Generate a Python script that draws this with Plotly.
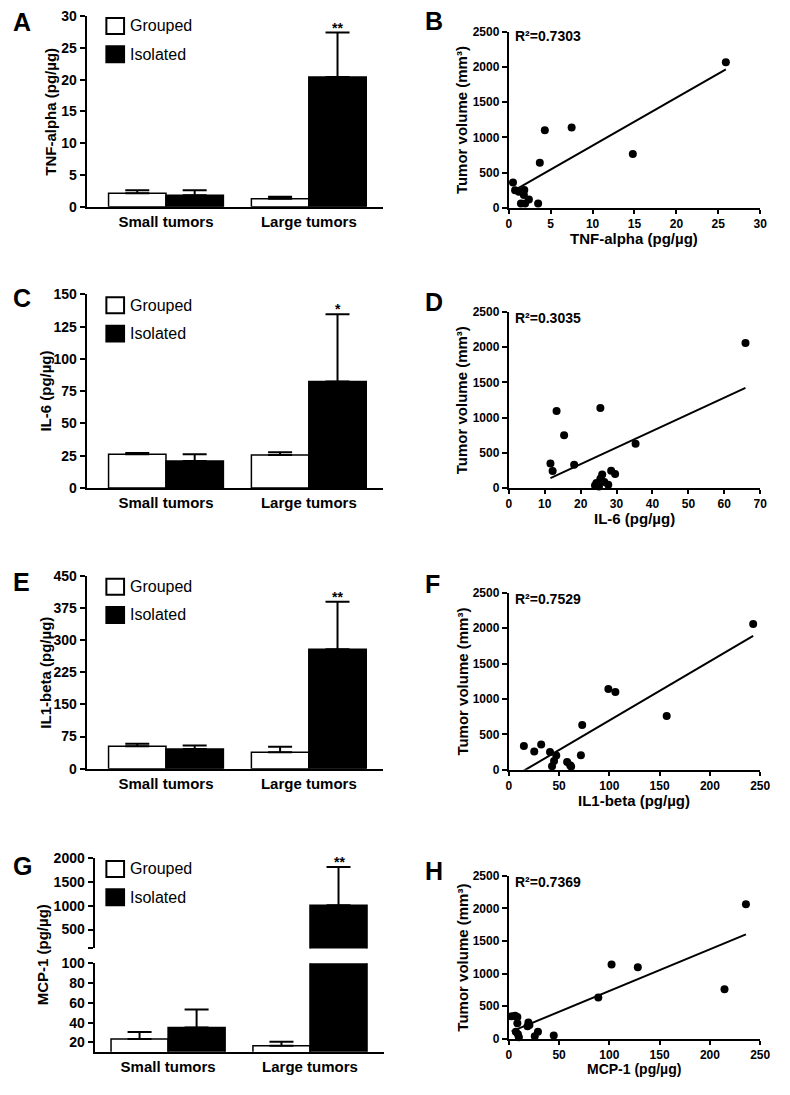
import plotly.graph_objects as go

# The page keeps the browser's 8 px body margin and a little extra height, so the
# figure is sized to fit the window and reference pixels are mapped accordingly.
VW, VH = 790, 1095
OFF = 8
W, H = VW - 2 * OFF, VH - 2 * OFF
S = 0.9922  # measured vertical scale of the captured page
FONT = "Liberation Sans, Arial, sans-serif"

# ---------------- data ----------------
categories = ["Small tumors", "Large tumors"]
series_names = ["Grouped", "Isolated"]

tnf_grouped = [2.1, 1.25]
tnf_grouped_err = [0.5, 0.3]
tnf_isolated = [1.8, 20.4]
tnf_isolated_err = [0.8, 7.0]

il6_grouped = [26.2, 25.6]
il6_grouped_err = [0.9, 2.1]
il6_isolated = [21.0, 82.6]
il6_isolated_err = [5.1, 52.0]

il1b_grouped = [52.5, 38.6]
il1b_grouped_err = [5.5, 12.5]
il1b_isolated = [46.0, 278.5]
il1b_isolated_err = [8.0, 111.0]

mcp1_grouped = [23.4, 16.7]
mcp1_grouped_err = [7.3, 4.0]
mcp1_isolated = [35.0, 1010.0]
mcp1_isolated_err = [18.4, 800.0]

significance = ["**", "*", "**", "**"]

tnf_x = [25.9, 14.8, 7.5, 4.3, 3.7, 0.5, 0.75, 1.2, 1.85, 1.8, 2.4, 1.45, 1.95, 3.5]
tnf_vol = [2070, 765, 1140, 1100, 638, 358, 248, 226, 252, 182, 117, 58, 58, 58]

il6_x = [65.9, 35.3, 25.5, 13.3, 15.4, 18.2, 11.6, 12.2, 28.5, 29.6, 26.0, 25.5, 24.4, 24.0, 26.6, 27.7, 25.1]
il6_vol = [2060, 630, 1135, 1095, 750, 329, 348, 240, 246, 197, 190, 131, 70, 37, 85, 45, 20]

il1b_x = [243, 157, 99, 106, 73, 15, 25.3, 32.2, 41, 47.2, 45, 43, 58, 61, 62, 71.7]
il1b_vol = [2060, 760, 1140, 1098, 632, 335, 256, 358, 250, 200, 122, 50, 110, 62, 45, 206]

mcp1_x = [235.8, 214.5, 102.2, 128.3, 89, 2.8, 6.3, 8.5, 8.5, 19.5, 18.6, 20.5, 7, 9.1, 10, 29, 25.8, 44.7]
mcp1_vol = [2066, 759, 1142, 1099, 632, 344, 354, 335, 240, 250, 194, 210, 109, 71, 24, 109, 38, 52]

fit_slope = [68.2, 23.6, 8.36, 6.39]
fit_intercept = [201.5, -133.0, -139.6, 95.0]
r2_labels = ["R²=0.7303", "R²=0.3035", "R²=0.7529", "R²=0.7369"]

bar_ylabels = ["TNF-alpha (pg/µg)", "IL-6 (pg/µg)", "IL1-beta (pg/µg)", "MCP-1 (pg/µg)"]
scatter_xlabels = bar_ylabels
scatter_ylabel = "Tumor volume (mm³)"
panel_letters = ["A", "B", "C", "D", "E", "F", "G", "H"]

# ---------------- helpers (picture pixels -> paper) ----------------
def clamp(v):
    return min(1.0, max(0.0, v))

def px(x):
    return (x - OFF) / W

def py(y):
    return 1 - (y / S - OFF) / H

def xdom(a, b):
    return [clamp(px(a)), clamp(px(b))]

def ydom(top, bottom):
    return [clamp(py(bottom)), clamp(py(top))]

fig = go.Figure()
annotations = []
shapes = []

bold = dict(family=FONT, color="black", weight="bold")


def axis_common():
    return dict(showline=True, linecolor="black", linewidth=2, showgrid=False,
                zeroline=False, mirror=False)


def add_bars(xa, ya, g, ge, iso, ie):
    fig.add_trace(go.Bar(
        x=categories, y=g, name=series_names[0], xaxis=xa, yaxis=ya, showlegend=False,
        marker=dict(color="white", line=dict(color="black", width=1.5)),
        error_y=dict(type="data", symmetric=False, array=ge, arrayminus=[0] * len(ge),
                     color="black", thickness=2, width=12)))
    fig.add_trace(go.Bar(
        x=categories, y=iso, name=series_names[1], xaxis=xa, yaxis=ya, showlegend=False,
        marker=dict(color="black", line=dict(color="black", width=1.5)),
        error_y=dict(type="data", symmetric=False, array=ie, arrayminus=[0] * len(ie),
                     color="black", thickness=2, width=12)))


def legend_block(top):
    for i, (fill, name) in enumerate(zip(["white", "black"], series_names)):
        y0 = top + 3 + i * 28.5
        shapes.append(dict(type="rect", xref="paper", yref="paper",
                           x0=px(105), x1=px(123), y0=py(y0 + 16), y1=py(y0),
                           fillcolor=fill, line=dict(color="black", width=2)))
        annotations.append(dict(text=name, xref="paper", yref="paper", x=px(127),
                                y=py(y0 + 8), xanchor="left", yanchor="middle",
                                showarrow=False, font=dict(family=FONT, size=16, color="black")))


def ytitle(text, xc, yc, size=15):
    annotations.append(dict(text=text, xref="paper", yref="paper", x=px(xc), y=py(yc),
                            textangle=-90, showarrow=False, xanchor="center", yanchor="middle",
                            font=dict(size=size, **bold)))


def letter(text, x, yc):
    annotations.append(dict(text=text, xref="paper", yref="paper", x=px(x), y=py(yc),
                            xanchor="left", yanchor="middle", showarrow=False,
                            font=dict(size=25, **bold)))


layout_axes = {}

# ---------------- bar panels A, C, E ----------------
bar_specs = [
    (1, (8, 200), 7, [0, 30], 5, tnf_grouped, tnf_grouped_err, tnf_isolated, tnf_isolated_err, 48),
    (3, (288.3, 483.3), 288.3, [0, 150], 25, il6_grouped, il6_grouped_err, il6_isolated, il6_isolated_err, 43),
    (5, (571.7, 766), 571.7, [0, 450], 75, il1b_grouped, il1b_grouped_err, il1b_isolated, il1b_isolated_err, 43),
]
for k, (n, (top, bot), ltop, yr, dt, g, ge, iso, ie, tx) in enumerate(bar_specs):
    xa, ya = f"x{n}", f"y{n}"
    add_bars(xa, ya, g, ge, iso, ie)
    layout_axes[f"xaxis{n}"] = dict(domain=xdom(85, 386), anchor=ya, range=[-0.555, 1.517],
                                    ticks="", tickfont=dict(size=15, **bold), **axis_common())
    layout_axes[f"yaxis{n}"] = dict(domain=ydom(top, bot), anchor=xa, range=yr, dtick=dt,
                                    ticks="outside", ticklen=5, tickwidth=2, tickcolor="black",
                                    tickfont=dict(size=14, **bold), **axis_common())
    legend_block(ltop)
    ytitle(bar_ylabels[k], tx, (top + bot) / 2)
    annotations.append(dict(text=significance[k], xref=xa, yref=ya, x=categories[1],
                            xshift=29, y=iso[1] + ie[1], yanchor="bottom", yshift=-5,
                            showarrow=False, font=dict(size=14, **bold)))
# the top tick label of panel A sits at the very top edge; let it show
layout_axes["yaxis1"]["ticklabeloverflow"] = "allow"

# ---------------- bar panel G (broken axis) ----------------
add_bars("x7", "y7", mcp1_grouped, mcp1_grouped_err, mcp1_isolated, mcp1_isolated_err)
add_bars("x8", "y8", mcp1_grouped, mcp1_grouped_err, mcp1_isolated, mcp1_isolated_err)
layout_axes["xaxis7"] = dict(domain=xdom(93, 387), anchor="y7", range=[-0.518, 1.519],
                             ticks="", tickfont=dict(size=15, **bold), **axis_common())
layout_axes["yaxis7"] = dict(domain=ydom(962, 1051), anchor="x7", range=[10.7, 100],
                             tickvals=[20, 40, 60, 80, 100],
                             ticks="outside", ticklen=5, tickwidth=2, tickcolor="black",
                             tickfont=dict(size=14, **bold), **axis_common())
layout_axes["xaxis8"] = dict(domain=xdom(93, 387), anchor="y8", matches="x7", visible=False)
layout_axes["yaxis8"] = dict(domain=ydom(856, 947), anchor="x8", range=[104, 2000],
                             tickvals=[104, 500, 1000, 1500, 2000],
                             ticktext=["", "500", "1000", "1500", "2000"],
                             ticks="outside", ticklen=5, tickwidth=2, tickcolor="black",
                             tickfont=dict(size=14, **bold), **axis_common())
legend_block(856)
ytitle(bar_ylabels[3], 40, 953.5)
annotations.append(dict(text=significance[3], xref="x8", yref="y8", x=categories[1],
                        xshift=29.5, y=mcp1_isolated[1] + mcp1_isolated_err[1],
                        yanchor="bottom", yshift=-5, showarrow=False, font=dict(size=14, **bold)))

# ---------------- scatter panels B, D, F, H ----------------
scatter_specs = [
    (2, (24, 201), [0, 30], 5, tnf_x, tnf_vol, 232, 15, 28),
    (4, (306, 483.3), [0, 70], 10, il6_x, il6_vol, 514, 15, 312),
    (6, (589, 767), [0, 250], 50, il1b_x, il1b_vol, 798, 15, 595),
    (9, (874, 1038), [0, 250], 50, mcp1_x, mcp1_vol, 1068, 14, 880),
]
for k, (n, (top, bot), xr, dt, xs, vs, xt_y, xt_size, r2_y) in enumerate(scatter_specs):
    xa, ya = f"x{n}", f"y{n}"
    fig.add_trace(go.Scatter(x=xs, y=vs, mode="markers", xaxis=xa, yaxis=ya, showlegend=False,
                             cliponaxis=False, marker=dict(color="black", size=8)))
    fx = [min(xs), max(xs)]
    fy = [fit_slope[k] * v + fit_intercept[k] for v in fx]
    fig.add_trace(go.Scatter(x=fx, y=fy, mode="lines", xaxis=xa, yaxis=ya, showlegend=False,
                             line=dict(color="black", width=2)))
    layout_axes[f"xaxis{n}"] = dict(domain=xdom(514.3, 770), anchor=ya, range=xr, dtick=dt,
                                    ticks="outside", ticklen=4, tickwidth=2, tickcolor="black",
                                    tickfont=dict(size=12, **bold), **axis_common())
    layout_axes[f"yaxis{n}"] = dict(domain=ydom(top, bot), anchor=xa, range=[0, 2500], dtick=500,
                                    ticks="outside", ticklen=5, tickwidth=2, tickcolor="black",
                                    tickfont=dict(size=12, **bold), **axis_common())
    ytitle(scatter_ylabel, 467, (top + bot) / 2)
    annotations.append(dict(text=scatter_xlabels[k], xref="paper", yref="paper", x=px(642),
                            y=py(xt_y), xanchor="center", yanchor="middle", showarrow=False,
                            font=dict(size=xt_size, **bold)))
    annotations.append(dict(text=r2_labels[k], xref="paper", yref="paper", x=px(519),
                            y=py(r2_y), xanchor="left", yanchor="middle", showarrow=False,
                            font=dict(size=14, **bold)))

# panel letters
for t, (x, yc) in zip(panel_letters, [(8, 14), (427, 13), (8, 292), (427, 296),
                                      (8, 578), (427, 580), (8, 864), (427, 869)]):
    letter(t, x, yc)

fig.update_layout(width=W, height=H, autosize=False,
                  margin=dict(l=0, r=0, t=0, b=0),
                  paper_bgcolor="white", plot_bgcolor="white",
                  barmode="group", bargap=0.196, bargroupgap=0,
                  font=dict(family=FONT, color="black"),
                  annotations=annotations, shapes=shapes, **layout_axes)

fig.write_html("out.html", config={"displayModeBar": False})
